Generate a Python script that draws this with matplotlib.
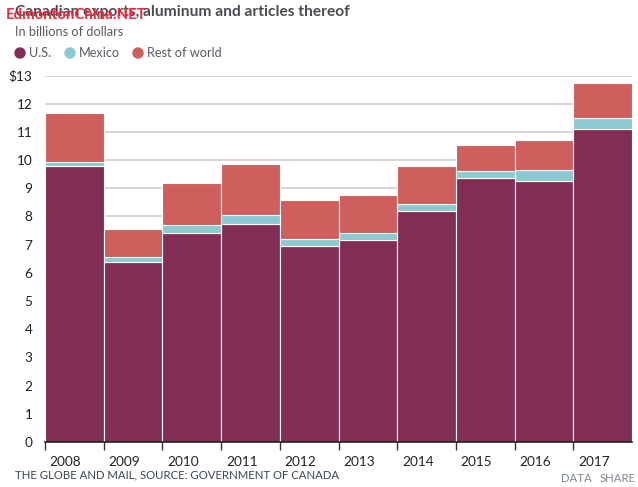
import matplotlib
matplotlib.use("Agg")
import matplotlib.pyplot as plt
from matplotlib.patches import Ellipse

# Values, in billions of dollars
years = ["2008", "2009", "2010", "2011", "2012", "2013", "2014", "2015", "2016", "2017"]
us = [9.80, 6.38, 7.42, 7.75, 6.95, 7.18, 8.20, 9.37, 9.25, 11.10]
mexico = [0.13, 0.17, 0.26, 0.30, 0.25, 0.24, 0.25, 0.25, 0.40, 0.40]
rest = [1.75, 1.00, 1.52, 1.80, 1.40, 1.33, 1.35, 0.90, 1.07, 1.25]
y_ticks = list(range(14))
legend_names = ["U.S.", "Mexico", "Rest of world"]

# Colours
US_COLOR = "#822d55"
MEXICO_COLOR = "#8bc9d3"
REST_COLOR = "#cf5f5c"
GREY_TEXT = "#5a5a64"

plt.rcParams["font.family"] = ["Lato", "DejaVu Sans"]

W, H = 638, 487
fig = plt.figure(figsize=(W / 100, H / 100), dpi=100)
ax = fig.add_axes([45 / W, 1 - 442 / H, 587 / W, (442 - 75.5) / H])

# Stacked bars, one unit wide so they touch
x = list(range(len(years)))
bottom_rest = [u + m for u, m in zip(us, mexico)]
bar_style = dict(width=1.0, align="edge", edgecolor="white", linewidth=0.8, zorder=3)
ax.bar(x, us, color=US_COLOR, **bar_style)
ax.bar(x, mexico, bottom=us, color=MEXICO_COLOR, **bar_style)
ax.bar(x, rest, bottom=bottom_rest, color=REST_COLOR, **bar_style)

ax.set_xlim(0, len(years))
ax.set_ylim(0, 13)

ax.set_yticks(y_ticks)
ax.set_yticklabels(["\\$13" if t == 13 else str(t) for t in y_ticks],
                   fontsize=9.8, color="#222222")
ax.tick_params(axis="y", length=0, pad=9)
ax.yaxis.grid(True, color="#d0d0d0", linewidth=1.2, zorder=0)
ax.set_axisbelow(True)

ax.set_xticks(x)
ax.set_xticklabels([])
ax.tick_params(axis="x", length=6, width=1, color="#333333", direction="out")
for i, year in zip(x, years):
    ax.text(i + 0.35, -0.71, year, ha="center", va="center", fontsize=9.8, color="#222222")

for side in ["top", "right", "left"]:
    ax.spines[side].set_visible(False)
ax.spines["bottom"].set_color("#222222")
ax.spines["bottom"].set_linewidth(1.2)
ax.spines["bottom"].set_zorder(5)


def fig_text(px, py, s, **kw):
    fig.text(px / W, 1 - py / H, s, va="center", **kw)


# Header
fig_text(15, 12, "Canadian exports, aluminum and articles thereof", fontsize=11.2,
         fontweight="bold", color="#4a4a50")
fig_text(6, 15, "EdmontonChina.NET", fontsize=10.8, fontweight="bold", color="#f0263f", zorder=10)
fig_text(15, 32, "In billions of dollars", fontsize=9.2, color=GREY_TEXT)

# Legend, dots sized in pixels so they stay round
for name, color, dot_x in zip(legend_names, [US_COLOR, MEXICO_COLOR, REST_COLOR], [20, 70, 138]):
    fig.add_artist(Ellipse((dot_x / W, 1 - 53 / H), 10 / W, 10 / H, color=color,
                           transform=fig.transFigure))
    fig_text(dot_x + 9, 53, name, fontsize=9.2, color=GREY_TEXT)

# Footer
fig_text(15, 475, "THE GLOBE AND MAIL, SOURCE: GOVERNMENT OF CANADA", fontsize=8.2, color="#3c4650")
fig_text(561, 479, "DATA", fontsize=8.2, color="#808890")
fig_text(600, 479, "SHARE", fontsize=8.2, color="#808890")

fig.savefig("out.png", dpi=100)
